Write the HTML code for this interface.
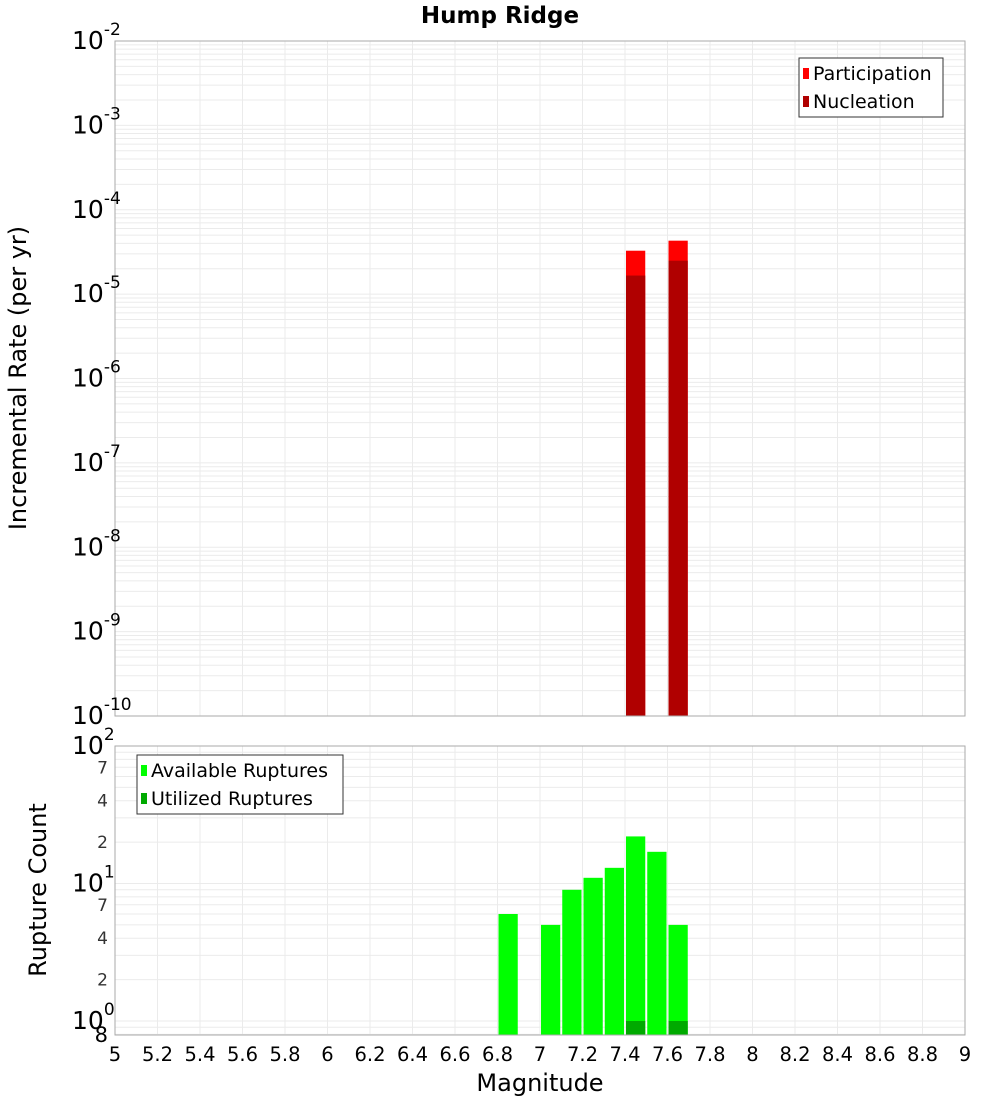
<!DOCTYPE html>
<html><head><meta charset="utf-8"><style>
body{margin:0;background:#fff;font-family:"Liberation Sans","DejaVu Sans",sans-serif}
svg text{font-family:"DejaVu Sans","Liberation Sans",sans-serif}
</style></head><body>
<svg id="c" width="1000" height="1100" xmlns="http://www.w3.org/2000/svg"></svg>
<script>
const binCenters=[7.45,7.65];
const participation=[3.27e-5,4.3e-5];
const nucleation=[1.66e-5,2.49e-5];
const countCenters=[6.85,7.05,7.15,7.25,7.35,7.45,7.55,7.65];
const available=[6,5,9,11,13,22,17,5];
const utilizedCenters=[7.45,7.65];
const utilized=[1,1];
const xTicks=[5,5.2,5.4,5.6,5.8,6,6.2,6.4,6.6,6.8,7,7.2,7.4,7.6,7.8,8,8.2,8.4,8.6,8.8,9];
const topExps=[-2,-3,-4,-5,-6,-7,-8,-9,-10];
const botMinorLabels=[2,4,7,20,40,70];

const svg=document.getElementById('c');
const NS='http://www.w3.org/2000/svg';
function el(t,a,p){const e=document.createElementNS(NS,t);for(const k in a)e.setAttribute(k,a[k]);(p||svg).appendChild(e);return e;}
const X0=115,X1=965;
const x=v=>X0+(v-5)/4*(X1-X0);
const T0=41,T1=716;
const yT=v=>T0+(-2-Math.log10(v))/8*(T1-T0);
const B0=746,B1=1021;
const yB=v=>B0+(2-Math.log10(v))/2*(B1-B0);
const BB=1035;

const gTop=el('g',{});


for(const t of xTicks){el('line',{x1:x(t),x2:x(t),y1:T0,y2:T1,stroke:'#ebebeb'},gTop);}
for(let e=-10;e<-2;e++)for(let m=1;m<10;m++){const yy=yT(m*Math.pow(10,e));el('line',{x1:X0,x2:X1,y1:yy,y2:yy,stroke:'#ebebeb'},gTop);}
const gBot=el('g',{});


for(const t of xTicks){el('line',{x1:x(t),x2:x(t),y1:B0,y2:BB,stroke:'#ebebeb'},gBot);}
for(let e=-1;e<2;e++)for(let m=1;m<10;m++){const yy=yB(m*Math.pow(10,e));if(yy>=B0&&yy<=BB)el('line',{x1:X0,x2:X1,y1:yy,y2:yy,stroke:'#ebebeb'},gBot);}

binCenters.forEach((c,i)=>{
  const a=el('rect',{x:x(c-0.05)+1,width:x(c+0.05)-x(c-0.05)-2,y:yT(participation[i]),height:T1-yT(participation[i]),fill:'#ff0000'});
  
  
  const b=el('rect',{x:x(c-0.05)+1,width:x(c+0.05)-x(c-0.05)-2,y:yT(nucleation[i]),height:T1-yT(nucleation[i]),fill:'#b00000'});
  
  
});
countCenters.forEach((c,i)=>{
  const a=el('rect',{x:x(c-0.05)+1,width:x(c+0.05)-x(c-0.05)-2,y:yB(available[i]),height:BB-yB(available[i]),fill:'#00ff00'});
  
  
});
utilizedCenters.forEach((c,i)=>{
  const a=el('rect',{x:x(c-0.05)+1,width:x(c+0.05)-x(c-0.05)-2,y:yB(utilized[i]),height:BB-yB(utilized[i]),fill:'#00aa00'});
  
  
});

const f1=el('rect',{x:X0,y:T0,width:X1-X0,height:T1-T0,fill:'none',stroke:'#aaa'});


const f2=el('rect',{x:X0,y:B0,width:X1-X0,height:BB-B0,fill:'none',stroke:'#aaa'});



topExps.forEach(e=>{
  const yy=yT(Math.pow(10,e));
  const t=el('text',{x:72,y:yy+8,'font-size':25,fill:'#000'});
  
  
  t.textContent='10';
  const s=el('tspan',{dy:-14,'font-size':17},t);s.textContent=String(e);
});
[[100,'2'],[10,'1'],[1,'0']].forEach(([v,p])=>{
  const yy=yB(v);
  const t=el('text',{x:72,y:yy+8,'font-size':25,fill:'#000'});
  
  
  t.textContent='10';
  const s=el('tspan',{dy:-14,'font-size':17},t);s.textContent=p;
});
botMinorLabels.forEach(v=>{
  const t=el('text',{x:108,y:yB(v)+6,'font-size':17,fill:'#333','text-anchor':'end'});
  
  
  t.textContent=String(v%10===0?v/10:v);
});
const t8=el('text',{x:108,y:1042,'font-size':21,fill:'#000','text-anchor':'end'});


t8.textContent='8';
xTicks.forEach(v=>{
  const t=el('text',{x:x(v),y:1061,'font-size':19.5,fill:'#000','text-anchor':'middle'});
  
  
  t.textContent=String(v);
});
const tt=el('text',{x:500,y:23,'font-size':23,'font-weight':'bold','text-anchor':'middle'});


tt.textContent='Hump Ridge';
const xt=el('text',{x:540,y:1091,'font-size':24,'text-anchor':'middle'});


xt.textContent='Magnitude';
const yt1=el('text',{x:0,y:0,'font-size':24,'text-anchor':'middle',transform:'translate(26,378) rotate(-90)'});


yt1.textContent='Incremental Rate (per yr)';
const yt2=el('text',{x:0,y:0,'font-size':24,'text-anchor':'middle',transform:'translate(46,890) rotate(-90)'});


yt2.textContent='Rupture Count';

function legend(x0,y0,w,h,items,name){
  const g=el('g',{});
  
  
  el('rect',{x:x0,y:y0,width:w,height:h,fill:'#fff',stroke:'#333'},g);
  items.forEach(([label,col],i)=>{
    el('rect',{x:x0+4,y:y0+10+i*28,width:6,height:11,fill:col},g);
    const t=el('text',{x:x0+14,y:y0+22+i*28,'font-size':19},g);
    
    
    t.textContent=label;
  });
}
legend(799,58,144,59,[['Participation','#ff0000'],['Nucleation','#b00000']],'top-legend');
legend(137,755,206,59,[['Available Ruptures','#00ff00'],['Utilized Ruptures','#00aa00']],'bottom-legend');
</script>
</body></html>
